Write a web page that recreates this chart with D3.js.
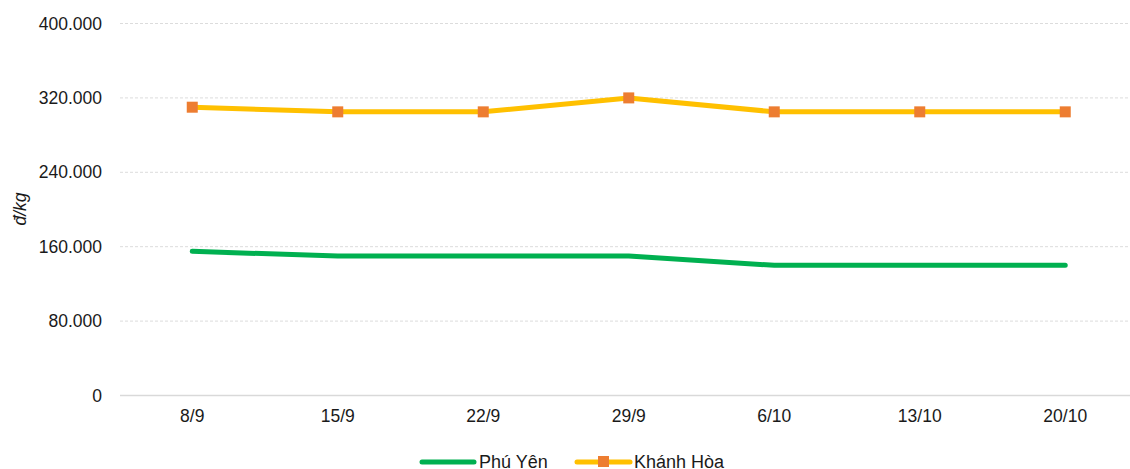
<!DOCTYPE html>
<html><head><meta charset="utf-8">
<script src="https://cdn.jsdelivr.net/npm/d3@7/dist/d3.min.js"></script>
<style>body{margin:0;background:#fff}svg{display:block;font-family:Arial,"Liberation Sans",sans-serif}</style>
</head><body><svg id="c" width="1130" height="469"></svg>
<script>
const categories = ["8/9","15/9","22/9","29/9","6/10","13/10","20/10"];
const phuYen = [155000,150000,150000,150000,140000,140000,140000];
const khanhHoa = [310000,305000,305000,320000,305000,305000,305000];
const yTicks = [0,80000,160000,240000,320000,400000];
const seriesNames = ["Phú Yên","Khánh Hòa"];

const FONT = "Arial,'Liberation Sans',sans-serif";
const svg = d3.select("#c");
const x = d3.scaleBand().domain(categories).range([119.5,1138]);
const y = d3.scaleLinear().domain([0,400000]).range([395.5,23.5]);
const fmt = v => v===0 ? "0" : d3.format(",")(v).replace(/,/g,".");

// gridlines
svg.append("g").selectAll("line").data(yTicks.filter(d=>d>0)).join("line")
  .attr("x1",120).attr("x2",1130).attr("y1",d=>y(d)).attr("y2",d=>y(d))
  .attr("stroke","#dcdcdc").attr("stroke-width",1).attr("stroke-dasharray","3,2");
// baseline
svg.append("line").attr("x1",120).attr("x2",1130).attr("y1",y(0)).attr("y2",y(0))
  .attr("stroke","#d9d9d9").attr("stroke-width",1.5);

// y axis labels
const ya = svg.append("g").attr("transform","translate(102,0)")
  .call(d3.axisLeft(y).tickValues(yTicks).tickFormat(fmt).tickSize(0).tickPadding(0));
ya.select(".domain").remove();
ya.selectAll("text").attr("font-size",17.5).attr("fill","#1a1a1a").attr("font-family",FONT);

// x axis labels
const xa = svg.append("g").attr("transform",`translate(0,${y(0)})`)
  .call(d3.axisBottom(x).tickSize(0).tickPadding(14));
xa.select(".domain").remove();
xa.selectAll("text").attr("font-size",17.5).attr("fill","#1a1a1a").attr("font-family",FONT);

// y title
svg.append("text").attr("transform","translate(26,209) rotate(-90)").attr("text-anchor","middle")
  .attr("font-size",17.5).attr("font-style","italic").attr("fill","#1a1a1a").attr("font-family",FONT).text("đ/kg");

const cx = d => x(d)+x.bandwidth()/2;
const line = d3.line().x((d,i)=>cx(categories[i])).y(d=>y(d));

svg.append("path").datum(phuYen).attr("d",line).attr("fill","none")
  .attr("stroke","#00B050").attr("stroke-width",5).attr("stroke-linecap","round").attr("stroke-linejoin","round");
svg.append("path").datum(khanhHoa).attr("d",line).attr("fill","none")
  .attr("stroke","#FFC000").attr("stroke-width",5).attr("stroke-linejoin","round");
svg.append("g").selectAll("rect").data(khanhHoa).join("rect")
  .attr("x",(d,i)=>cx(categories[i])-5.5).attr("y",d=>y(d)-5.5)
  .attr("width",11).attr("height",11).attr("fill","#ED7D31");

// legend
const lg = svg.append("g").attr("font-family",FONT);
lg.append("line").attr("x1",422).attr("x2",474).attr("y1",462).attr("y2",462)
  .attr("stroke","#00B050").attr("stroke-width",5).attr("stroke-linecap","round");
lg.append("text").attr("x",479).attr("y",468).attr("font-size",18).attr("fill","#1a1a1a").text(seriesNames[0]);
lg.append("line").attr("x1",577).attr("x2",630).attr("y1",462).attr("y2",462)
  .attr("stroke","#FFC000").attr("stroke-width",5).attr("stroke-linecap","round");
lg.append("rect").attr("x",598).attr("y",456).attr("width",11).attr("height",11).attr("fill","#ED7D31");
lg.append("text").attr("x",634).attr("y",468).attr("font-size",18).attr("fill","#1a1a1a").text(seriesNames[1]);
</script></body></html>
